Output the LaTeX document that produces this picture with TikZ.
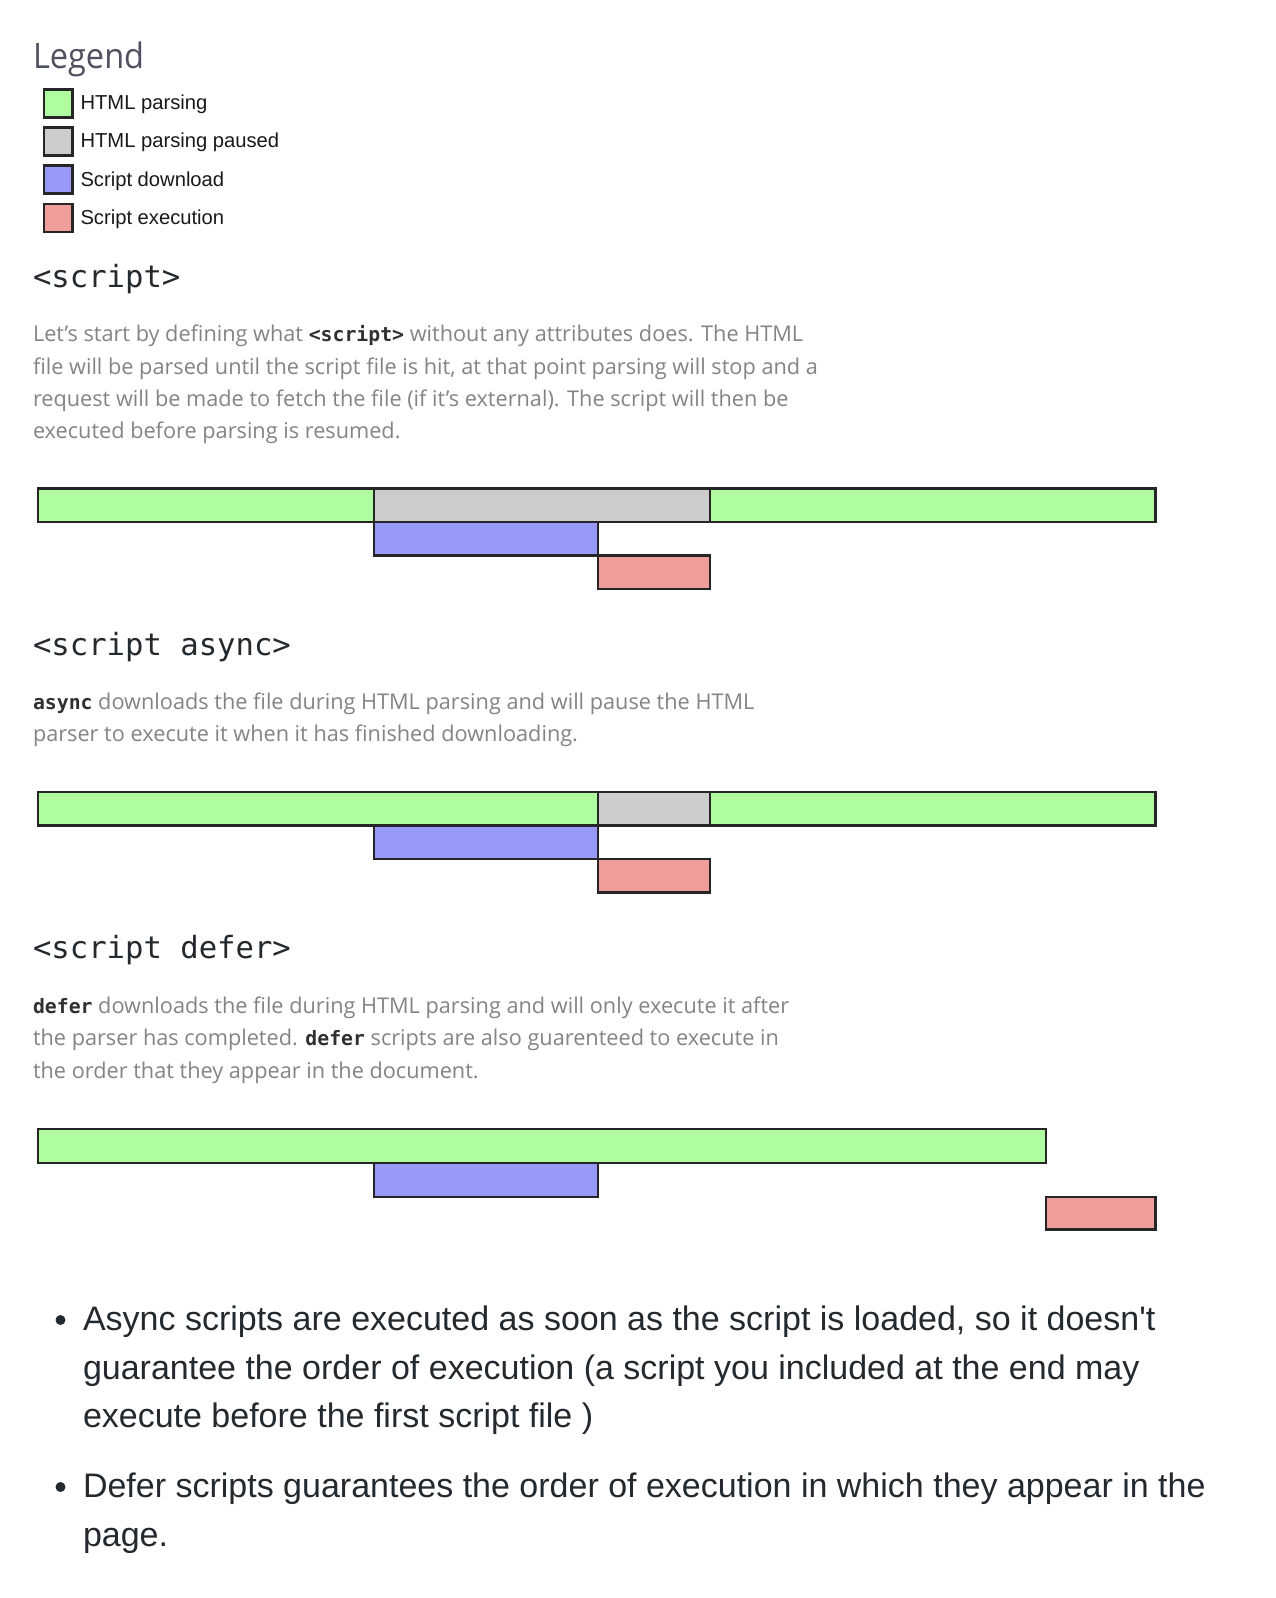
\documentclass[tikz,border=0pt]{standalone}
\usepackage{fontspec}
\newfontfamily\labfont{Liberation Sans}
\newfontfamily\bulfont{Liberation Sans}
\newfontfamily\parfont{Open Sans}
\newfontfamily\legfont[FakeStretch=0.93]{Open Sans}
\newfontfamily\monofont{DejaVu Sans Mono}
\definecolor{parsefill}{HTML}{B0FCA1}
\definecolor{pausefill}{HTML}{CCCCCC}
\definecolor{dlfill}{HTML}{9999F7}
\definecolor{execfill}{HTML}{F09E9B}
\definecolor{partext}{HTML}{848484}
\definecolor{headtext}{HTML}{24292E}
\definecolor{legtext}{HTML}{505060}
\definecolor{codetext}{HTML}{303030}
\newcommand\inlinecode[1]{{\monofont\bfseries\fontsize{19.8}{20}\selectfont\color{codetext}#1}}
\tikzset{
  bar/.style={draw=black!85, line width=2.2pt},
  legsq/.style={draw=black!85, line width=2.5pt},
  txt/.style={anchor=base west, inner sep=0pt, outer sep=0pt},
  legtitle/.style={txt, text=legtext, font=\legfont\fontsize{35}{40}\selectfont},
  leglabel/.style={txt, text=black!90, font=\labfont\fontsize{20.2}{24}\selectfont},
  heading/.style={txt, text=headtext, font=\monofont\fontsize{30.6}{34}\selectfont},
  para/.style={txt, text=partext, font=\parfont\fontsize{21.7}{32}\selectfont},
  bullet/.style={txt, text=headtext, font=\bulfont\fontsize{34}{48}\selectfont},
}
\begin{document}
\begin{tikzpicture}[x=1pt,y=-1pt]
\useasboundingbox (0,0) rectangle (1276,1598);
\fill[white] (0,0) rectangle (1276,1598);

% Legend
\node[legtitle] (legend) at (33,68.3) {Legend};
\draw[legsq, fill=parsefill] (44,89.6) rectangle (72.7,117.7);
\draw[legsq, fill=pausefill] (44,127.3) rectangle (72.7,155.4);
\draw[legsq, fill=dlfill]    (44,165.3) rectangle (72.7,193.7);
\draw[legsq, fill=execfill]  (44,204) rectangle (72.7,232);
\node[leglabel] (l1) at (80.5,109.3) {HTML parsing};
\node[leglabel] (l2) at (80.5,147.7) {HTML parsing paused};
\node[leglabel] (l3) at (80.5,186) {Script download};
\node[leglabel] (l4) at (80.5,224.5) {Script execution};

% Section 1
\node[heading] (h1) at (33,287) {<script>};
\node[para] (p1a) at (33,341.7) {Let’s start by defining what \inlinecode{<script>} without any attributes does. The HTML};
\node[para] (p1b) at (33,374.5) {file will be parsed until the script file is hit, at that point parsing will stop and a};
\node[para] (p1c) at (33,406.6) {request will be made to fetch the file (if it’s external). The script will then be};
\node[para] (p1d) at (33,438.5) {executed before parsing is resumed.};

\draw[bar, fill=parsefill] (38,488.5) rectangle (374,521.6);
\draw[bar, fill=pausefill] (374,488.5) rectangle (710,521.6);
\draw[bar, fill=parsefill] (710,488.5) rectangle (1155.5,521.6);
\draw[bar, fill=dlfill]    (374,521.6) rectangle (598,555.5);
\draw[bar, fill=execfill]  (598,555.5) rectangle (710,588.6);

% Section 2
\node[heading] (h2) at (33,655) {<script async>};
\node[para] (p2a) at (33,709) {\inlinecode{async} downloads the file during HTML parsing and will pause the HTML};
\node[para] (p2b) at (33,741.5) {parser to execute it when it has finished downloading.};

\draw[bar, fill=parsefill] (38,792.2) rectangle (598,825.4);
\draw[bar, fill=pausefill] (598,792.2) rectangle (710,825.4);
\draw[bar, fill=parsefill] (710,792.2) rectangle (1155.5,825.4);
\draw[bar, fill=dlfill]    (374,825.4) rectangle (598,859.2);
\draw[bar, fill=execfill]  (598,859.2) rectangle (710,892.4);

% Section 3
\node[heading] (h3) at (33,958.5) {<script defer>};
\node[para] (p3a) at (33,1013) {\inlinecode{defer} downloads the file during HTML parsing and will only execute it after};
\node[para] (p3b) at (33,1045.5) {the parser has completed. \inlinecode{defer} scripts are also guarenteed to execute in};
\node[para] (p3c) at (33,1078) {the order that they appear in the document.};

\draw[bar, fill=parsefill] (38,1129.3) rectangle (1045.7,1162.7);
\draw[bar, fill=dlfill]    (374,1162.7) rectangle (598,1196.6);
\draw[bar, fill=execfill]  (1045.7,1196.6) rectangle (1155.5,1229.5);

% Bullets
\fill[headtext] (60.5,1320) circle (5);
\fill[headtext] (60.5,1487) circle (5);
\node[bullet] (b1a) at (83,1330) {Async scripts are executed as soon as the script is loaded, so it doesn't};
\node[bullet] (b1b) at (83,1379) {guarantee the order of execution (a script you included at the end may};
\node[bullet] (b1c) at (83,1427) {execute before the first script file )};
\node[bullet] (b2a) at (83,1497) {Defer scripts guarantees the order of execution in which they appear in the};
\node[bullet] (b2b) at (83,1546) {page.};
\end{tikzpicture}
\end{document}
